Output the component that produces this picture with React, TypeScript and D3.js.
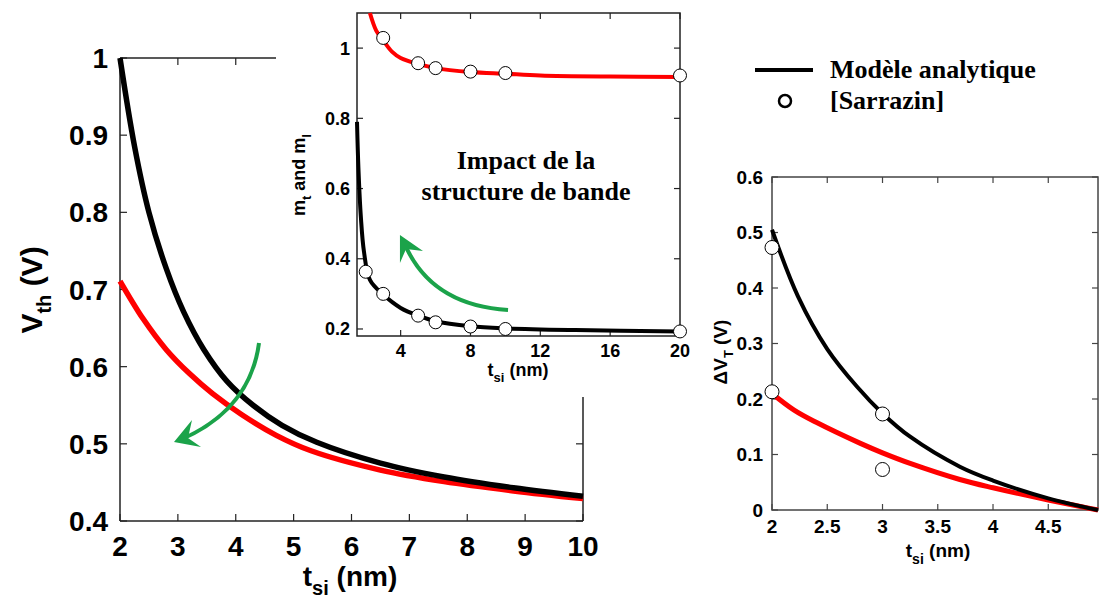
import React from 'react';
import * as d3 from 'd3';

// ---------- Main chart data (Vth vs tsi) ----------
const mainTBlack = [2, 2.25, 2.5, 2.8, 3.1, 3.45, 3.85, 4.3, 4.8, 5.4, 6.5, 7.6, 8.8, 10];
const mainVBlack = [1.0, 0.886, 0.8, 0.727, 0.671, 0.622, 0.581, 0.55, 0.524, 0.502, 0.475, 0.457, 0.443, 0.432];
const mainTRed = [2, 2.4, 2.8, 3.2, 3.6, 4.1, 4.7, 5.3, 6.5, 7.6, 8.8, 10];
const mainVRed = [0.711, 0.662, 0.622, 0.591, 0.565, 0.538, 0.511, 0.491, 0.466, 0.451, 0.439, 0.429];
const mainXTicks = [2, 3, 4, 5, 6, 7, 8, 9, 10];
const mainYTicks = [0.4, 0.5, 0.6, 0.7, 0.8, 0.9, 1];

// ---------- Inset data (mt, ml vs tsi) ----------
const insetTRed = [2.24, 2.6, 3, 3.5, 4, 5, 6, 8, 10, 12, 16, 20];
const insetMRed = [1.1, 1.05, 1.022, 0.99, 0.972, 0.955, 0.943, 0.932, 0.927, 0.922, 0.919, 0.918];
const insetTBlack = [1.5, 1.58, 1.72, 1.9, 2.24, 3, 4, 5, 6, 8, 10, 14, 20];
const insetMBlack = [0.79, 0.66, 0.52, 0.42, 0.34, 0.298, 0.26, 0.238, 0.222, 0.208, 0.202, 0.197, 0.193];
const insetPtsT = [3, 5, 6, 8, 10, 20];
const insetPtsRed = [1.029, 0.957, 0.943, 0.933, 0.929, 0.922];
const insetPtsTBlack = [2, 3, 5, 6, 8, 10, 20];
const insetPtsBlack = [0.363, 0.3, 0.238, 0.219, 0.207, 0.2, 0.193];
const insetXTicks = [4, 8, 12, 16, 20];
const insetYTicks = [0.2, 0.4, 0.6, 0.8, 1];

// ---------- Right chart data (dVT vs tsi) ----------
const rightTBlack = [2, 2.235, 2.5, 2.77, 3, 3.25, 3.7, 4, 4.5, 4.95];
const rightBlack = [0.505, 0.385, 0.29, 0.222, 0.174, 0.132, 0.078, 0.053, 0.021, 0];
const rightTRed = [2, 2.2, 2.4, 2.8, 3, 3.25, 3.7, 4, 4.5, 4.95];
const rightRed = [0.21, 0.18, 0.158, 0.12, 0.103, 0.084, 0.055, 0.04, 0.018, 0];
const rightPtsT = [2, 2, 3, 3];
const rightPtsV = [0.473, 0.213, 0.173, 0.073];
const rightXTicks = [2, 2.5, 3, 3.5, 4, 4.5];
const rightYTicks = [0, 0.1, 0.2, 0.3, 0.4, 0.5, 0.6];

// ---------- Annotation arrows (data units) ----------
const mainArrowCurve = [[4.402, 0.6307], [4.246, 0.5438], [3.037, 0.505]];
const mainArrowHead = [[2.933, 0.5024], [3.4, 0.4959], [3.175, 0.5076], [3.244, 0.5309]];
const insetArrowCurve = [[10.15, 0.254], [5.68, 0.268], [4.19, 0.447]];
const insetArrowHead = [[3.96, 0.468], [5.28, 0.422], [4.31, 0.428], [3.96, 0.388]];

const SANS = '"Liberation Sans", Arial, sans-serif';
const SERIF = '"Liberation Serif", "Times New Roman", serif';
const GREEN = '#1ba34a';
const RED = '#ff0000';

function zip(a: number[], b: number[]) {
  return a.map((v, i) => [v, b[i]] as [number, number]);
}

export default function App() {
  const mx = d3.scaleLinear().domain([2, 10]).range([120, 583]);
  const my = d3.scaleLinear().domain([0.4, 1.0]).range([521, 58]);
  const ix = d3.scaleLinear().domain([1.5, 20]).range([357, 680]);
  const iy = d3.scaleLinear().domain([0.18, 1.1]).range([336, 13]);
  const rx = d3.scaleLinear().domain([2, 4.95]).range([772, 1098]);
  const ry = d3.scaleLinear().domain([0, 0.6]).range([510, 177]);

  const mkLine = (sx: any, sy: any) =>
    d3.line<[number, number]>().x(d => sx(d[0])).y(d => sy(d[1])).curve(d3.curveCatmullRom.alpha(0.5));

  const mLine = mkLine(mx, my);
  const iLine = mkLine(ix, iy);
  const rLine = mkLine(rx, ry);

  const arrowCurve = (pts: number[][], sx: any, sy: any) => {
    const p = pts.map(q => [sx(q[0]), sy(q[1])]);
    return `M${p[0][0]},${p[0][1]} Q${p[1][0]},${p[1][1]} ${p[2][0]},${p[2][1]}`;
  };
  const arrowHead = (pts: number[][], sx: any, sy: any) =>
    pts.map(q => `${sx(q[0])},${sy(q[1])}`).join(' ');

  const axisStroke = '#222';
  const TL = 7;

  return (
    <svg width={1099} height={598} style={{ position: 'absolute', left: 0, top: 0, background: '#fff' }}>
      {/* ================= MAIN CHART ================= */}
      <g>
        <line x1={mx(2)} y1={my(1)} x2={mx(2)} y2={my(0.4)} stroke={axisStroke} strokeWidth={1.5} />
        <line x1={mx(2)} y1={my(0.4)} x2={mx(10)} y2={my(0.4)} stroke={axisStroke} strokeWidth={1.5} />
        <line x1={mx(2)} y1={my(1)} x2={mx(10)} y2={my(1)} stroke={axisStroke} strokeWidth={1.5} />
        <line x1={mx(10)} y1={my(1)} x2={mx(10)} y2={my(0.4)} stroke={axisStroke} strokeWidth={1.5} />
        {mainYTicks.map(v => (
          <g key={'my' + v}>
            <line x1={mx(2)} x2={mx(2) + TL} y1={my(v)} y2={my(v)} stroke={axisStroke} strokeWidth={1.2} />
            <line x1={mx(10)} x2={mx(10) - TL} y1={my(v)} y2={my(v)} stroke={axisStroke} strokeWidth={1.2} />
            <text x={108} y={my(v)} dy="0.36em" textAnchor="end" fontFamily={SANS} fontWeight="bold" fontSize={28}>
              {String(v)}
            </text>
          </g>
        ))}
        {mainXTicks.map(v => (
          <g key={'mx' + v}>
            <line x1={mx(v)} x2={mx(v)} y1={my(0.4)} y2={my(0.4) - TL} stroke={axisStroke} strokeWidth={1.2} />
            <line x1={mx(v)} x2={mx(v)} y1={my(1)} y2={my(1) + TL} stroke={axisStroke} strokeWidth={1.2} />
            <text x={mx(v)} y={556} textAnchor="middle" fontFamily={SANS} fontWeight="bold" fontSize={28}>
              {String(v)}
            </text>
          </g>
        ))}
        <text x={350} y={586} textAnchor="middle" fontFamily={SANS} fontWeight="bold" fontSize={28}>
          t<tspan fontSize={20} dy={9}>si</tspan>
          <tspan dy={-9}> (nm)</tspan>
        </text>
        <text transform="translate(42,290) rotate(-90)" textAnchor="middle" fontFamily={SANS} fontWeight="bold" fontSize={30}>
          V<tspan fontSize={20} dy={9}>th</tspan>
          <tspan dy={-9}> (V)</tspan>
        </text>
        <path d={mLine(zip(mainTRed, mainVRed)) || ''} fill="none" stroke={RED} strokeWidth={5.5} />
        <path d={mLine(zip(mainTBlack, mainVBlack)) || ''} fill="none" stroke="#000" strokeWidth={5.5} />
        <path d={arrowCurve(mainArrowCurve, mx, my)} fill="none" stroke={GREEN} strokeWidth={4} />
        <polygon points={arrowHead(mainArrowHead, mx, my)} fill={GREEN} />
      </g>

      {/* ================= INSET ================= */}
      <g>
        <rect x={276} y={0} width={424} height={397} fill="#fff" />
        <rect x={ix(1.5)} y={iy(1.1)} width={ix(20) - ix(1.5)} height={iy(0.18) - iy(1.1)} fill="none" stroke={axisStroke} strokeWidth={1.5} />
        {insetYTicks.map(v => (
          <g key={'iy' + v}>
            <line x1={ix(1.5)} x2={ix(1.5) + 6} y1={iy(v)} y2={iy(v)} stroke={axisStroke} strokeWidth={1.2} />
            <line x1={ix(20)} x2={ix(20) - 6} y1={iy(v)} y2={iy(v)} stroke={axisStroke} strokeWidth={1.2} />
            <text x={350} y={iy(v)} dy="0.36em" textAnchor="end" fontFamily={SANS} fontWeight="bold" fontSize={18}>
              {String(v)}
            </text>
          </g>
        ))}
        {insetXTicks.map(v => (
          <g key={'ix' + v}>
            <line x1={ix(v)} x2={ix(v)} y1={iy(0.18)} y2={iy(0.18) - 6} stroke={axisStroke} strokeWidth={1.2} />
            <line x1={ix(v)} x2={ix(v)} y1={iy(1.1)} y2={iy(1.1) + 6} stroke={axisStroke} strokeWidth={1.2} />
            <text x={ix(v)} y={357} textAnchor="middle" fontFamily={SANS} fontWeight="bold" fontSize={18}>
              {String(v)}
            </text>
          </g>
        ))}
        <text x={518} y={376} textAnchor="middle" fontFamily={SANS} fontWeight="bold" fontSize={18}>
          t<tspan fontSize={13} dy={6}>si</tspan>
          <tspan dy={-6}> (nm)</tspan>
        </text>
        <text transform="translate(305,175) rotate(-90)" textAnchor="middle" fontFamily={SANS} fontWeight="bold" fontSize={18}>
          m<tspan fontSize={13} dy={6}>t</tspan>
          <tspan dy={-6}> and m</tspan>
          <tspan fontSize={13} dy={6}>l</tspan>
        </text>
        <text x={526} y={169} textAnchor="middle" fontFamily={SERIF} fontWeight="bold" fontSize={26}>
          Impact de la
        </text>
        <text x={526} y={200} textAnchor="middle" fontFamily={SERIF} fontWeight="bold" fontSize={26}>
          structure de bande
        </text>
        <path d={iLine(zip(insetTRed, insetMRed)) || ''} fill="none" stroke={RED} strokeWidth={4} />
        <path d={iLine(zip(insetTBlack, insetMBlack)) || ''} fill="none" stroke="#000" strokeWidth={4} />
        {insetPtsT.map((t, i) => (
          <circle key={'ipr' + i} cx={ix(t)} cy={iy(insetPtsRed[i])} r={6.5} fill="#fff" stroke="#000" strokeWidth={1} />
        ))}
        {insetPtsTBlack.map((t, i) => (
          <circle key={'ipb' + i} cx={ix(t)} cy={iy(insetPtsBlack[i])} r={6.5} fill="#fff" stroke="#000" strokeWidth={1} />
        ))}
        <path d={arrowCurve(insetArrowCurve, ix, iy)} fill="none" stroke={GREEN} strokeWidth={4} />
        <polygon points={arrowHead(insetArrowHead, ix, iy)} fill={GREEN} />
      </g>

      {/* ================= LEGEND ================= */}
      <g>
        <line x1={755} x2={813} y1={70} y2={70} stroke="#000" strokeWidth={4} />
        <text x={830} y={78} fontFamily={SERIF} fontWeight="bold" fontSize={26}>Modèle analytique</text>
        <circle cx={785} cy={101} r={6} fill="#fff" stroke="#000" strokeWidth={2.5} />
        <text x={830} y={109} fontFamily={SERIF} fontWeight="bold" fontSize={26}>[Sarrazin]</text>
      </g>

      {/* ================= RIGHT CHART ================= */}
      <g>
        <rect x={rx(2)} y={ry(0.6)} width={rx(4.95) - rx(2)} height={ry(0) - ry(0.6)} fill="none" stroke="#444" strokeWidth={1.5} />
        {rightYTicks.map(v => (
          <g key={'ry' + v}>
            <line x1={rx(2)} x2={rx(2) + 6} y1={ry(v)} y2={ry(v)} stroke="#444" strokeWidth={1.2} />
            <line x1={rx(4.95)} x2={rx(4.95) - 6} y1={ry(v)} y2={ry(v)} stroke="#444" strokeWidth={1.2} />
            <text x={763} y={ry(v)} dy="0.36em" textAnchor="end" fontFamily={SANS} fontWeight="bold" fontSize={19}>
              {String(v)}
            </text>
          </g>
        ))}
        {rightXTicks.map(v => (
          <g key={'rx' + v}>
            <line x1={rx(v)} x2={rx(v)} y1={ry(0)} y2={ry(0) - 6} stroke="#444" strokeWidth={1.2} />
            <line x1={rx(v)} x2={rx(v)} y1={ry(0.6)} y2={ry(0.6) + 6} stroke="#444" strokeWidth={1.2} />
            <text x={rx(v)} y={533} textAnchor="middle" fontFamily={SANS} fontWeight="bold" fontSize={19}>
              {String(v)}
            </text>
          </g>
        ))}
        <text x={938} y={557} textAnchor="middle" fontFamily={SANS} fontWeight="bold" fontSize={19}>
          t<tspan fontSize={14} dy={7}>si</tspan>
          <tspan dy={-7}> (nm)</tspan>
        </text>
        <text transform="translate(727,352) rotate(-90)" textAnchor="middle" fontFamily={SANS} fontWeight="bold" fontSize={19}>
          ΔV<tspan fontSize={13} dy={6}>T</tspan>
          <tspan dy={-6}> (V)</tspan>
        </text>
        <path d={rLine(zip(rightTRed, rightRed)) || ''} fill="none" stroke={RED} strokeWidth={5} />
        <path d={rLine(zip(rightTBlack, rightBlack)) || ''} fill="none" stroke="#000" strokeWidth={4} />
        {rightPtsT.map((t, i) => (
          <circle key={'rp' + i} cx={rx(t)} cy={ry(rightPtsV[i])} r={7} fill="#fff" stroke="#000" strokeWidth={1} />
        ))}
      </g>
    </svg>
  );
}
